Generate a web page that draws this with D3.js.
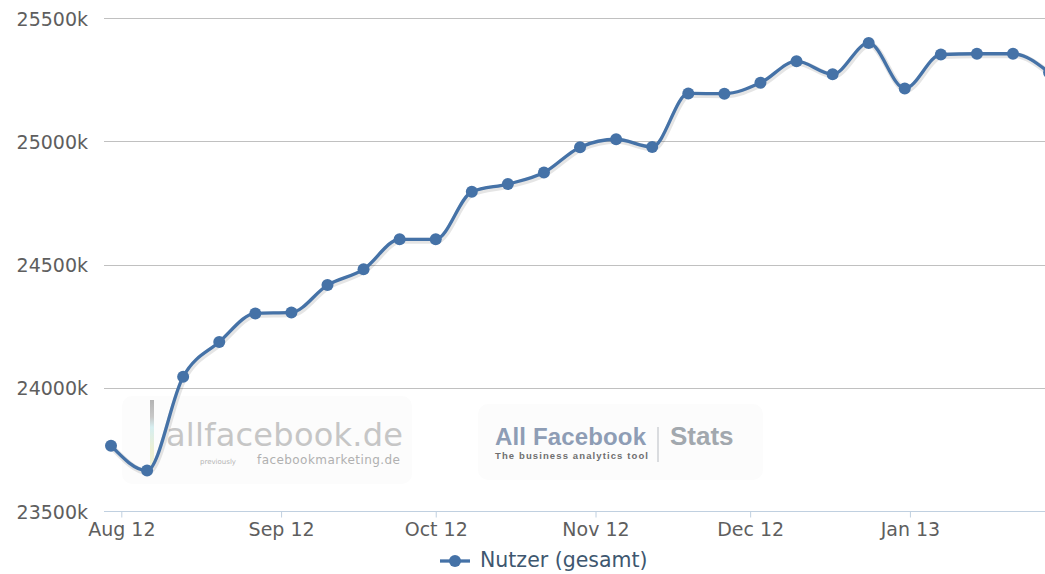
<!DOCTYPE html>
<html>
<head>
<meta charset="utf-8">
<script src="https://cdn.jsdelivr.net/npm/d3@7"></script>
<style>
  body { margin: 0; background: #fff; }
  svg { display: block; font-family: "DejaVu Sans", sans-serif; }
</style>
</head>
<body>
<svg width="1045" height="574"></svg>
<script>
// weekly data points (Mondays)
var weeks = ["2012-07-30","2012-08-06","2012-08-13","2012-08-20","2012-08-27",
  "2012-09-03","2012-09-10","2012-09-17","2012-09-24","2012-10-01","2012-10-08",
  "2012-10-15","2012-10-22","2012-10-29","2012-11-05","2012-11-12","2012-11-19",
  "2012-11-26","2012-12-03","2012-12-10","2012-12-17","2012-12-24","2012-12-31",
  "2013-01-07","2013-01-14","2013-01-21","2013-01-28"]

// Nutzer (gesamt), in thousands
var nutzer = [23765, 23664, 24045, 24186, 24302, 24306, 24417, 24481, 24603, 24603,
  24796, 24827, 24874, 24977, 25009, 24978, 25195, 25194, 25238, 25326,
  25273, 25400, 25215, 25353, 25356, 25356, 25280]

var yTicks = [23500, 24000, 24500, 25000, 25500]
var yTickLabels = ["23500k", "24000k", "24500k", "25000k", "25500k"]
var seriesName = "Nutzer (gesamt)"

var blue = "#4572A7"
var parseDate = d3.utcParse("%Y-%m-%d")

var data = weeks.map(function(w, i) {
    return { date: parseDate(w), value: nutzer[i] }
})

var svg = d3.select("svg")

var plotLeft = 104
var plotRight = 1045

var x = d3.scaleUtc()
    .domain([data[0].date, data[25].date])
    .range([111, 1013])

var y = d3.scaleLinear()
    .domain([23500, 25500])
    .range([511, 18.3])

// watermark (behind everything)
var wm = svg.append("g").attr("class", "watermark")

wm.append("rect")
    .attr("x", 122).attr("y", 396).attr("width", 290).attr("height", 88)
    .attr("rx", 10).attr("fill", "#fcfcfc")
wm.append("rect")
    .attr("x", 478).attr("y", 404).attr("width", 285).attr("height", 76)
    .attr("rx", 10).attr("fill", "#fcfcfc")

var grad = svg.append("defs").append("linearGradient")
    .attr("id", "wmbar").attr("x1", 0).attr("x2", 0).attr("y1", 0).attr("y2", 1)
grad.append("stop").attr("offset", "0%").attr("stop-color", "#b4b4b4")
grad.append("stop").attr("offset", "25%").attr("stop-color", "#c8c8c8")
grad.append("stop").attr("offset", "40%").attr("stop-color", "#d6eef0")
grad.append("stop").attr("offset", "75%").attr("stop-color", "#eef0d2")
grad.append("stop").attr("offset", "100%").attr("stop-color", "#f2f2dc")

wm.append("rect")
    .attr("x", 150).attr("y", 400).attr("width", 4).attr("height", 68)
    .attr("fill", "url(#wmbar)")

wm.append("text")
    .attr("x", 166).attr("y", 446)
    .attr("font-size", 32)
    .attr("fill", "#c6c6c6")
    .attr("textLength", 237)
    .text("allfacebook.de")

wm.append("text")
    .attr("x", 200).attr("y", 464)
    .attr("font-size", 7)
    .attr("fill", "#b4b4b4")
    .text("previously")
wm.append("text")
    .attr("x", 257).attr("y", 464)
    .attr("font-size", 12)
    .attr("fill", "#b0b0b0")
    .attr("textLength", 143)
    .text("facebookmarketing.de")

wm.append("text")
    .attr("x", 495).attr("y", 445)
    .attr("font-family", "Liberation Sans, Arial, sans-serif")
    .attr("font-weight", "bold")
    .attr("font-size", 24)
    .attr("fill", "#8e9db5")
    .attr("textLength", 151)
    .text("All Facebook")
wm.append("text")
    .attr("x", 495).attr("y", 459)
    .attr("font-family", "Liberation Sans, Arial, sans-serif")
    .attr("font-weight", "bold")
    .attr("font-size", 9.5)
    .attr("fill", "#6f6f6f")
    .attr("textLength", 153)
    .text("The business analytics tool")
wm.append("line")
    .attr("x1", 658).attr("x2", 658).attr("y1", 427).attr("y2", 462)
    .attr("stroke", "#b8bcc2").attr("stroke-width", 1)
wm.append("text")
    .attr("x", 670).attr("y", 445)
    .attr("font-family", "Liberation Sans, Arial, sans-serif")
    .attr("font-weight", "bold")
    .attr("font-size", 26)
    .attr("fill", "#a2a8ae")
    .text("Stats")

// gridlines
svg.append("g")
    .selectAll("line")
    .data(yTicks.slice(1))
    .enter()
    .append("line")
    .attr("x1", plotLeft)
    .attr("x2", plotRight)
    .attr("y1", function(d) { return Math.round(y(d)) + 0.5 })
    .attr("y2", function(d) { return Math.round(y(d)) + 0.5 })
    .attr("stroke", "#c0c0c0")
    .attr("stroke-width", 1)

// y labels
svg.append("g")
    .selectAll("text")
    .data(yTicks)
    .enter()
    .append("text")
    .attr("x", 88)
    .attr("y", function(d) { return y(d) + 7.5 })
    .attr("text-anchor", "end")
    .attr("font-size", 19)
    .attr("fill", "#5e5e5e")
    .text(function(d, i) { return yTickLabels[i] })

// x axis
var xAxis = d3.axisBottom(x)
    .ticks(d3.utcMonth.every(1))
    .tickFormat(d3.utcFormat("%b %y"))
    .tickSize(6)
    .tickSizeOuter(0)

var gx = svg.append("g")
    .attr("transform", "translate(0," + (Math.round(y(23500)) + 0.5) + ")")
    .call(xAxis)

gx.select(".domain").remove()
gx.insert("line", ":first-child")
    .attr("x1", plotLeft).attr("x2", plotRight)
    .attr("stroke", "#C0D0E0")
gx.selectAll(".tick line").attr("stroke", "#C0D0E0")
gx.selectAll(".tick text")
    .attr("y", 24)
    .attr("dy", 0)
    .attr("font-size", 19)
    .attr("font-family", "DejaVu Sans, sans-serif")
    .attr("fill", "#5e5e5e")

// line
var line = d3.line()
    .x(function(d) { return x(d.date) })
    .y(function(d) { return y(d.value) })
    .curve(d3.curveMonotoneX)

svg.append("path")
    .datum(data)
    .attr("d", line)
    .attr("transform", "translate(1,1.5)")
    .attr("fill", "none")
    .attr("stroke", "#000")
    .attr("stroke-opacity", 0.1)
    .attr("stroke-width", 6)

svg.append("path")
    .datum(data)
    .attr("d", line)
    .attr("fill", "none")
    .attr("stroke", blue)
    .attr("stroke-width", 3.3)
    .attr("stroke-linejoin", "round")

svg.append("g")
    .selectAll("circle")
    .data(data)
    .enter()
    .append("circle")
    .attr("cx", function(d) { return x(d.date) })
    .attr("cy", function(d) { return y(d.value) })
    .attr("r", 6)
    .attr("fill", blue)

// legend
var legend = svg.append("g")
legend.append("line")
    .attr("x1", 440).attr("x2", 470).attr("y1", 561).attr("y2", 561)
    .attr("stroke", blue).attr("stroke-width", 3.3)
legend.append("circle")
    .attr("cx", 455).attr("cy", 561).attr("r", 6)
    .attr("fill", blue)
legend.append("text")
    .attr("x", 480).attr("y", 567)
    .attr("font-size", 20.5)
    .attr("fill", "#3E576F")
    .text(seriesName)
</script>
</body>
</html>
